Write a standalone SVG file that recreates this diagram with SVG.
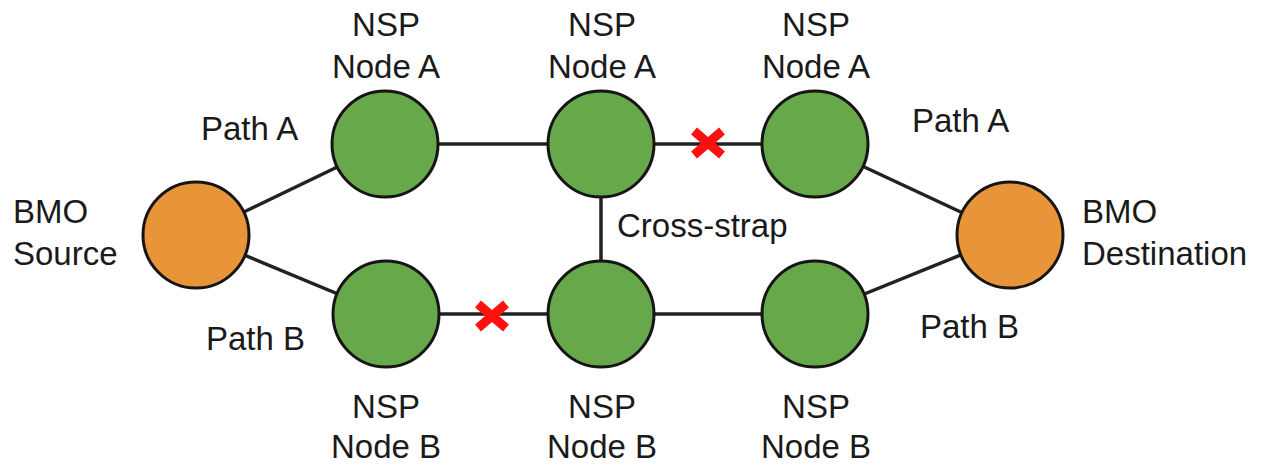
<svg xmlns="http://www.w3.org/2000/svg" width="1263" height="470" viewBox="0 0 1263 470">
<style>
text{font-family:"Liberation Sans",Arial,sans-serif;font-size:33px;fill:#1a1a1a}
.c{text-anchor:middle}
.link{stroke:#222222;stroke-width:3.5;fill:none}
.nsp{fill:#67a84a;stroke:#151515;stroke-width:3}
.bmo{fill:#e8953a;stroke:#151515;stroke-width:3}
.x{stroke:#ff1010;stroke-width:9;stroke-linecap:butt}
</style>
<rect width="1263" height="470" fill="#ffffff"/>
<g id="connectors">
<line class="link" x1="196" y1="235" x2="385" y2="144"/>
<line class="link" x1="196" y1="235" x2="386" y2="314"/>
<line class="link" x1="385" y1="144" x2="815" y2="144"/>
<line class="link" x1="386" y1="314" x2="815" y2="314"/>
<line class="link" x1="601" y1="144" x2="601" y2="314"/>
<line class="link" x1="815" y1="144" x2="1010" y2="235"/>
<line class="link" x1="815" y1="314" x2="1010" y2="235"/>
</g>
<g id="breaks">
<path class="x" d="M694 131 L722 155 M722 131 L694 155"/>
<path class="x" d="M478 304 L506 328 M506 304 L478 328"/>
</g>
<g id="src"><circle class="bmo" cx="196" cy="235" r="53"/></g>
<g id="dst"><circle class="bmo" cx="1010" cy="235" r="53"/></g>
<g id="a1"><circle class="nsp" cx="385" cy="144" r="53"/></g>
<g id="a2"><circle class="nsp" cx="601" cy="144" r="53"/></g>
<g id="a3"><circle class="nsp" cx="815" cy="144" r="53"/></g>
<g id="b1"><circle class="nsp" cx="386" cy="314" r="53"/></g>
<g id="b2"><circle class="nsp" cx="601" cy="314" r="53"/></g>
<g id="b3"><circle class="nsp" cx="815" cy="314" r="53"/></g>
<g id="labels">
<text class="c" x="386" y="36">NSP</text><text class="c" x="386" y="78">Node A</text>
<text class="c" x="602" y="36">NSP</text><text class="c" x="602" y="78">Node A</text>
<text class="c" x="816" y="36">NSP</text><text class="c" x="816" y="78">Node A</text>
<text class="c" x="386" y="418">NSP</text><text class="c" x="386" y="458">Node B</text>
<text class="c" x="602" y="418">NSP</text><text class="c" x="602" y="458">Node B</text>
<text class="c" x="816" y="418">NSP</text><text class="c" x="816" y="458">Node B</text>
<text x="13" y="223">BMO</text><text x="13" y="265">Source</text>
<text x="1082" y="223">BMO</text><text x="1082" y="265">Destination</text>
<text x="201" y="140">Path A</text>
<text x="206" y="350">Path B</text>
<text x="912" y="132">Path A</text>
<text x="920" y="338">Path B</text>
<text x="617" y="237">Cross-strap</text>
</g>
</svg>
